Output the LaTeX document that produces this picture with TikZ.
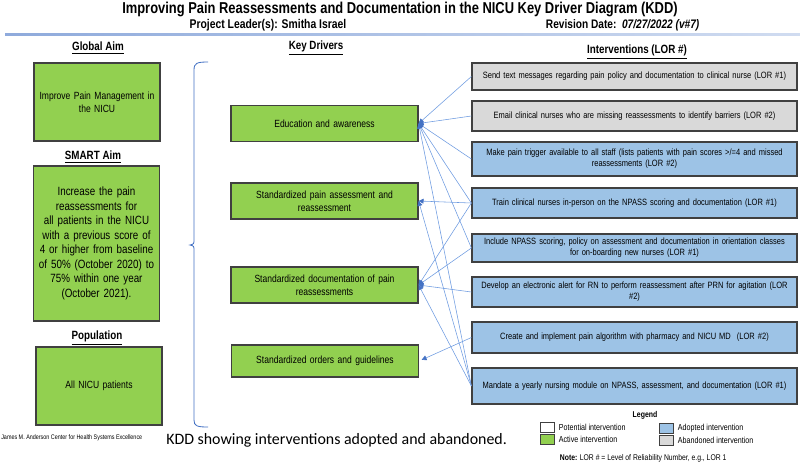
\documentclass[tikz,border=0pt]{standalone}
\usepackage{fontspec}
\setmainfont[FakeStretch=0.82]{Liberation Sans}
\newfontfamily\capfont{Carlito}
\usetikzlibrary{arrows.meta}
\definecolor{kddgreen}{HTML}{92D050}
\definecolor{kddblue}{HTML}{9DC3E6}
\definecolor{kddgray}{HTML}{D9D9D9}
\definecolor{kddedge}{HTML}{404040}
\definecolor{kddline}{HTML}{6E9BE0}
\definecolor{kddbrace}{HTML}{4472C4}
\tikzset{
	box/.style={draw=kddedge, line width=0.8pt, align=center, inner sep=2pt},
	aimbox/.style={box, fill=kddgreen, minimum width=3.15cm, text width=2.9cm, font=\fontsize{7.4}{9}\selectfont},
	driverbox/.style={box, fill=kddgreen, minimum width=4.675cm, minimum height=0.9cm, text width=4.4cm, font=\fontsize{7.4}{9}\selectfont},
	ivbox/.style={box, minimum width=8.125cm, text width=7.9cm, font=\fontsize{6.5}{8}\selectfont},
	heading/.style={font=\fontsize{8.5}{10}\selectfont\bfseries},
	legbox/.style={draw=kddedge, line width=0.5pt, minimum width=0.35cm, minimum height=0.25cm, inner sep=0pt},
	legtext/.style={font=\fontsize{6.2}{7}\selectfont, anchor=west, inner sep=1pt},
	link/.style={kddline, line width=0.4pt, -{Triangle[length=3.5pt,width=3.5pt,color=kddbrace]}}
}
\begin{document}
\begin{tikzpicture}[x=0.025cm, y=-0.025cm]
	\useasboundingbox (0,0) rectangle (800,462);
	\node[font=\fontsize{11.2}{13}\selectfont\bfseries] (title) at (400,9) {Improving Pain Reassessments and Documentation in the NICU Key Driver Diagram (KDD)};
	\node[font=\fontsize{9}{10}\selectfont\bfseries] (lead) at (268,25) {Project Leader(s): Smitha Israel};
	\node[font=\fontsize{8.8}{10}\selectfont\bfseries, anchor=west] (rev) at (541,25) {Revision Date:\ \ \textit{07/27/2022 (v\#7)}};
	\shade[left color=kddbrace!60, right color=kddbrace!25] (5,33.4) rectangle (800,35);

	\node[heading] (hglobal) at (98,48) {\underline{Global Aim}};
	\node[heading] (hsmart) at (93,157) {\underline{SMART Aim}};
	\node[heading] (hpop) at (97,338) {\underline{Population}};
	\node[heading] (hkey) at (316,48) {\underline{Key Drivers}};
	\node[heading] (hint) at (637,52) {\underline{Interventions (LOR \#)}};

	\node[aimbox, minimum height=1.95cm] (global) at (97,102) {Improve Pain Management in\\the NICU};
	\node[aimbox, minimum height=3.875cm, font=\fontsize{8.5}{10.3}\selectfont] (smart) at (96.5,243.5) {Increase the pain\\reassessments for\\all patients in the NICU\\with a previous score of\\4 or higher from baseline\\of 50\% (October 2020) to\\75\% within one year\\(October 2021).};
	\node[aimbox, minimum height=1.95cm] (pop) at (99,386) {All NICU patients};

	\draw[kddbrace, line width=0.6pt] (208,62) .. controls (197,62) and (194,63) .. (194,70) -- (194,239) .. controls (194,244) .. (190,245) .. controls (194,246) .. (194,251) -- (194,420) .. controls (194,426) and (197,427) .. (208,427);

	\node[driverbox] (edu) at (324.5,123.5) {Education and awareness};
	\node[driverbox] (assess) at (324.5,201) {Standardized pain assessment and\\reassessment};
	\node[driverbox] (doc) at (324.5,285) {Standardized documentation of pain\\reassessments};
	\node[driverbox, minimum height=0.8cm] (orders) at (325,361) {Standardized orders and guidelines};

	\node[ivbox, fill=kddgray, minimum height=0.675cm] (i1) at (634.5,76.5) {Send text messages regarding pain policy and documentation to clinical nurse (LOR \#1)};
	\node[ivbox, fill=kddgray, minimum height=0.75cm] (i2) at (634.5,116) {Email clinical nurses who are missing reassessments to identify barriers (LOR \#2)};
	\node[ivbox, fill=kddblue, minimum height=0.85cm] (i3) at (634.5,159) {Make pain trigger available to all staff (lists patients with pain scores >/=4 and missed\\reassessments (LOR \#2)};
	\node[ivbox, fill=kddblue, minimum height=0.75cm] (i4) at (634.5,203) {Train clinical nurses in-person on the NPASS scoring and documentation (LOR \#1)};
	\node[ivbox, fill=kddblue, minimum height=0.7cm] (i5) at (634.5,248) {Include NPASS scoring, policy on assessment and documentation in orientation classes\\for on-boarding new nurses (LOR \#1)};
	\node[ivbox, fill=kddblue, minimum height=0.75cm] (i6) at (634.5,292) {Develop an electronic alert for RN to perform reassessment after PRN for agitation (LOR\\\#2)};
	\node[ivbox, fill=kddblue, minimum height=0.775cm] (i7) at (634.5,337.5) {Create and implement pain algorithm with pharmacy and NICU MD\ \ (LOR \#2)};
	\node[ivbox, fill=kddblue, minimum height=0.9cm] (i8) at (634.5,386) {Mandate a yearly nursing module on NPASS, assessment, and documentation (LOR \#1)};

	\foreach \iv in {i1,i2,i3,i4,i5,i8}
		\draw[link] (\iv.west) -- (edu.east);
	\foreach \iv in {i4,i8}
		\draw[link] (\iv.west) -- (assess.east);
	\foreach \iv in {i4,i5,i6,i8}
		\draw[link] (\iv.west) -- (doc.east);
	\draw[link, shorten >=2pt] (i7.west) -- (orders.east);

	\node[font=\fontsize{6}{7}\selectfont\bfseries] (legend) at (645,415) {Legend};
	\node[legbox, fill=white] (lpot) at (547,427) {};
	\node[legbox, fill=kddgreen] (lact) at (547,439) {};
	\node[legbox, fill=kddblue] (ladop) at (666,428) {};
	\node[legbox, fill=kddgray] (laban) at (666,440) {};
	\node[legtext] (tpot) at ([xshift=2pt]lpot.east) {Potential intervention};
	\node[legtext] (tact) at ([xshift=2pt]lact.east) {Active intervention};
	\node[legtext] (tadop) at ([xshift=2pt]ladop.east) {Adopted intervention};
	\node[legtext] (taban) at ([xshift=2pt]laban.east) {Abandoned intervention};
	\node[font=\fontsize{5.9}{7}\selectfont, anchor=west] (note) at (555,458) {\textbf{Note:} LOR \# = Level of Reliability Number, e.g., LOR 1};

	\node[font=\fontsize{4.7}{6}\selectfont, anchor=west, inner sep=0pt] (center) at (1,438) {James M. Anderson Center for Health Systems Excellence};
	\node[font=\capfont\fontsize{11.3}{13}\selectfont, anchor=west, inner sep=0pt] (caption) at (166,440) {KDD showing interventions adopted and abandoned.};
\end{tikzpicture}
\end{document}
